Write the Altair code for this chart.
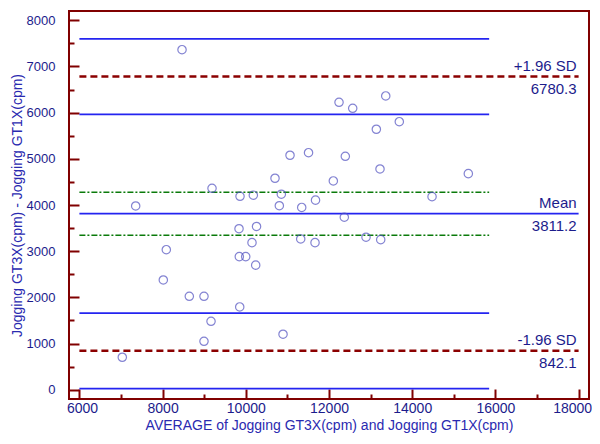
import altair as alt
import pandas as pd

# ---- data ----
avg = [8467, 11063, 11508, 10702, 9188, 9861, 10181, 10854, 10806, 11344, 11676, 7353,
       12241, 12570, 13364, 13690, 13138, 12392, 13226, 12104, 15349, 14477, 12368,
       9837, 10258, 10149, 11320, 11664, 12890, 13243, 8089, 9844, 9998, 10238,
       8017, 8642, 8995, 9854, 9164, 8995, 10895, 7031]
diff = [7363, 5077, 5133, 4579, 4362, 4189, 4213, 4233, 3984, 3947, 4105, 3979,
        6224, 6094, 6361, 5804, 5640, 5055, 4780, 4521, 4679, 4181, 3735,
        3486, 3535, 3185, 3265, 3185, 3302, 3250, 3033, 2882, 2882, 2698,
        2377, 2024, 2024, 1793, 1483, 1050, 1202, 704]

mean_diff = 3811.2
loa_upper = 6780.3
loa_lower = 842.1
ci_blue = [7598, 5962, 1660, 24]      # CI of the limits of agreement
ci_green = [4277, 3345]               # CI of the mean
line_start = 6000
ci_end = 15850
loa_end = 18000

above_labels = ["+1.96 SD", "Mean", "-1.96 SD"]
below_labels = ["6780.3", "3811.2", "842.1"]
label_levels = [loa_upper, mean_diff, loa_lower]

x_major = [6000, 8000, 10000, 12000, 14000, 16000, 18000]
x_minor = [7000, 9000, 11000, 13000, 15000, 17000]
y_major = [0, 1000, 2000, 3000, 4000, 5000, 6000, 7000, 8000]
y_minor = [500, 1500, 2500, 3500, 4500, 5500, 6500, 7500]

x_title = "AVERAGE of Jogging GT3X(cpm) and Jogging GT1X(cpm)"
y_title = "Jogging GT3X(cpm) - Jogging GT1X(cpm)"

# ---- styles ----
FONT = "Liberation Sans"
FRAME = "#800000"
NAVY = "#1c1c8c"
BLUE = "#2424f0"
TITLE = "#2a2ab0"

xs = alt.Scale(domain=[5750, 18250], nice=False, zero=False)
ys = alt.Scale(domain=[-200, 8200], nice=False, zero=False)

x_axis_major = alt.Axis(values=x_major, format="d", offset=-10, ticks=True, tickSize=10,
                        tickWidth=2, tickColor=FRAME, tickOpacity=1,
                        labelFlush=11, labelFlushOffset=13,
                        domain=False, grid=False, labelPadding=2, labelFont=FONT, labelFontSize=14,
                        labelColor=NAVY, title=x_title, titleFont=FONT, titleFontSize=14,
                        titleFontWeight="normal", titleColor=TITLE, titlePadding=3)
y_axis_major = alt.Axis(values=y_major, format="d", offset=-10, ticks=True, tickSize=10,
                        tickWidth=2, tickColor=FRAME, tickOpacity=1,
                        domain=False, grid=False, labelPadding=14, labelFont=FONT, labelFontSize=13,
                        labelColor=NAVY, title=y_title, titleFont=FONT, titleFontSize=14,
                        titleFontWeight="normal", titleColor=TITLE, titlePadding=2)
x_axis_minor = alt.Axis(values=x_minor, offset=-5, ticks=True, tickSize=5, tickWidth=2,
                        tickColor=FRAME, tickOpacity=1,
                        domain=False, grid=False, labels=False, title=None, orient="bottom")
y_axis_minor = alt.Axis(values=y_minor, offset=-5, ticks=True, tickSize=5, tickWidth=2,
                        tickColor=FRAME, tickOpacity=1,
                        domain=False, grid=False, labels=False, title=None, orient="left")

ci_df = pd.DataFrame({"y": ci_blue, "x": line_start, "x2": ci_end})
green_df = pd.DataFrame({"y": ci_green, "x": line_start, "x2": ci_end})
loa_df = pd.DataFrame({"y": [loa_upper, loa_lower], "x": line_start, "x2": loa_end})
mean_df = pd.DataFrame({"y": [mean_diff], "x": line_start, "x2": loa_end})
lab_df = pd.DataFrame({"above": above_labels, "below": below_labels,
                       "y": label_levels, "x": loa_end})
pts_df = pd.DataFrame({"avg": avg, "diff": diff})

blue_rules = alt.Chart(ci_df).mark_rule(color=BLUE, strokeWidth=1.8).encode(
    x=alt.X("x:Q", scale=xs, axis=x_axis_major),
    x2="x2",
    y=alt.Y("y:Q", scale=ys, axis=y_axis_major),
)
green_rules = alt.Chart(green_df).mark_rule(color="#0a7a0a", strokeWidth=1.5,
                                            strokeDash=[6, 2, 2, 2]).encode(
    x=alt.X("x:Q", scale=xs), x2="x2", y=alt.Y("y:Q", scale=ys))
mean_rule = alt.Chart(mean_df).mark_rule(color=BLUE, strokeWidth=1.8).encode(
    x=alt.X("x:Q", scale=xs), x2="x2", y=alt.Y("y:Q", scale=ys))
loa_rules = alt.Chart(loa_df).mark_rule(color="#8b0000", strokeWidth=2.5,
                                        strokeDash=[7, 4]).encode(
    x=alt.X("x:Q", scale=xs), x2="x2", y=alt.Y("y:Q", scale=ys))
text_above = alt.Chart(lab_df).mark_text(align="right", baseline="bottom", dy=-3, dx=-2,
                                         font=FONT, fontSize=15, color=NAVY).encode(
    x=alt.X("x:Q", scale=xs), y=alt.Y("y:Q", scale=ys), text="above:N")
text_below = alt.Chart(lab_df).mark_text(align="right", baseline="top", dy=5, dx=-2,
                                         font=FONT, fontSize=15, color=NAVY).encode(
    x=alt.X("x:Q", scale=xs), y=alt.Y("y:Q", scale=ys), text="below:N")

main = alt.layer(blue_rules, green_rules, mean_rule, loa_rules, text_above, text_below)

points = alt.Chart(pts_df).mark_point(shape="circle", filled=False, size=70,
                                      color="#5050c0", strokeWidth=1.2).encode(
    x=alt.X("avg:Q", scale=xs, axis=x_axis_minor),
    y=alt.Y("diff:Q", scale=ys, axis=y_axis_minor),
)

chart = alt.layer(main, points).resolve_scale(x="independent", y="independent").properties(
    width=520, height=388,
    autosize=alt.AutoSizeParams(type="none"),
    padding={"left": 61, "top": 3, "right": 3, "bottom": 37},
    background="white",
    view=alt.ViewBackground(stroke=FRAME, strokeWidth=2, strokeOpacity=1),
).configure_view(stroke=FRAME, strokeWidth=2)

chart.save("out.html", embed_options={"renderer": "svg", "actions": False})
